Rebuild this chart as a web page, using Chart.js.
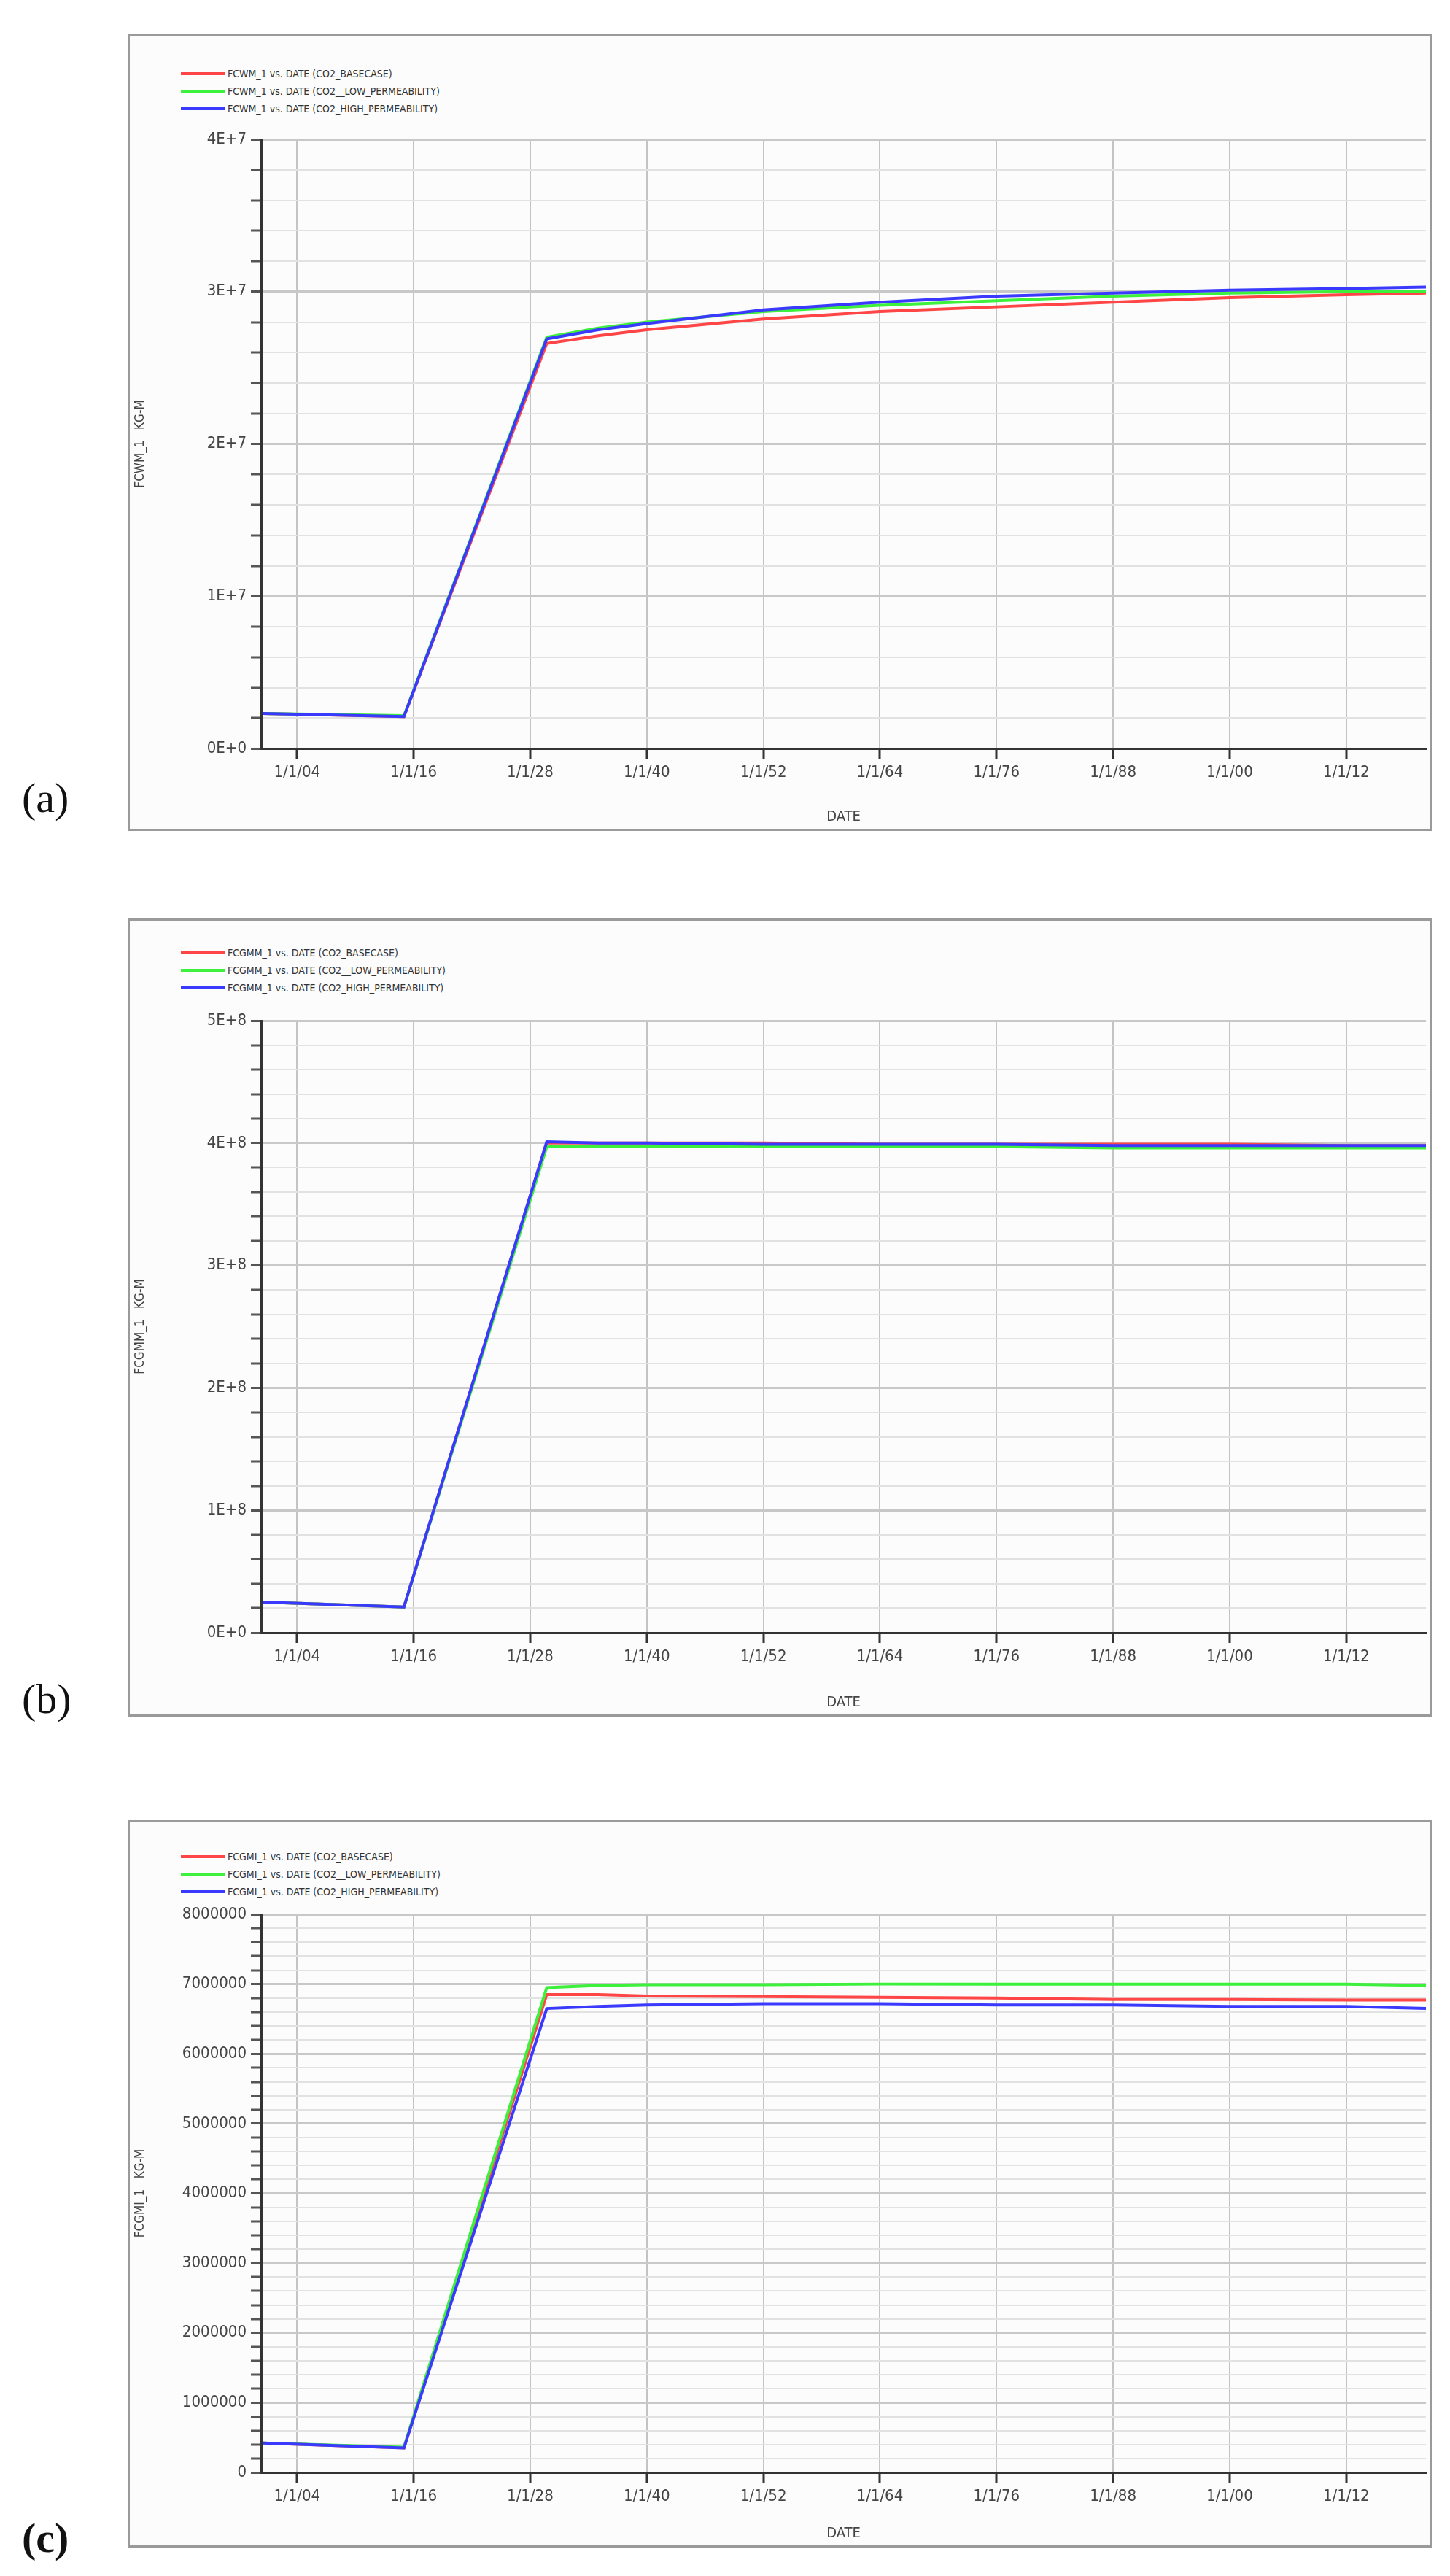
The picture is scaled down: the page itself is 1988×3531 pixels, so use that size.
<!DOCTYPE html>
<html><head><meta charset="utf-8">
<script src="https://cdn.jsdelivr.net/npm/chart.js@4/dist/chart.umd.min.js"></script>
<style>
body{margin:0;background:#fff;width:1988px;height:3531px;position:relative;font-family:"DejaVu Sans",sans-serif;overflow:hidden}
.panel{position:absolute;border:3px solid #9a9a9a;background:#fcfcfc;box-sizing:border-box}
.panel canvas{position:absolute;left:0;top:0}
.leg{position:absolute;left:70px;font-family:"DejaVu Sans Condensed","DejaVu Sans",sans-serif;font-size:14px;color:#333;line-height:1}
.leg div{height:24px;display:flex;align-items:center}
.leg span.l{display:inline-block;width:60px;height:4px;margin-right:4px}
.lab{position:absolute;left:30px;font-family:"Liberation Serif",serif;font-size:58px;color:#111}
</style></head><body>
<div class="lab" style="top:1060px">(a)</div>
<div class="lab" style="top:2295px">(b)</div>
<div class="lab" style="top:3445px;font-weight:bold">(c)</div>
<script>
const years = [1900.5, 1915, 1929.7, 1935, 1940, 1952, 1964, 1976, 1988, 2000, 2012, 2020.2];
const xTickYears = [1904, 1916, 1928, 1940, 1952, 1964, 1976, 1988, 2000, 2012];
const xTickLabels = ["1/1/04","1/1/16","1/1/28","1/1/40","1/1/52","1/1/64","1/1/76","1/1/88","1/1/00","1/1/12"];
const seriesNames = ["CO2_BASECASE","CO2__LOW_PERMEABILITY","CO2_HIGH_PERMEABILITY"];

const fcwmRed   = [2.3e6,2.1e6,2.66e7,2.71e7,2.75e7,2.82e7,2.87e7,2.90e7,2.93e7,2.96e7,2.98e7,2.99e7];
const fcwmGreen = [2.3e6,2.15e6,2.70e7,2.76e7,2.80e7,2.87e7,2.91e7,2.94e7,2.97e7,2.99e7,3.00e7,3.00e7];
const fcwmBlue  = [2.3e6,2.1e6,2.69e7,2.75e7,2.79e7,2.88e7,2.93e7,2.97e7,2.99e7,3.01e7,3.02e7,3.03e7];

const fcgmmRed   = [2.5e7,2.1e7,4.00e8,4.00e8,4.00e8,4.00e8,3.99e8,3.99e8,3.99e8,3.99e8,3.98e8,3.98e8];
const fcgmmGreen = [2.5e7,2.1e7,3.97e8,3.97e8,3.97e8,3.97e8,3.97e8,3.97e8,3.96e8,3.96e8,3.96e8,3.96e8];
const fcgmmBlue  = [2.5e7,2.1e7,4.01e8,4.00e8,4.00e8,3.99e8,3.99e8,3.99e8,3.98e8,3.98e8,3.98e8,3.98e8];

const fcgmiRed   = [4.2e5,3.5e5,6.85e6,6.85e6,6.83e6,6.82e6,6.81e6,6.80e6,6.78e6,6.78e6,6.77e6,6.77e6];
const fcgmiGreen = [4.2e5,3.6e5,6.95e6,6.98e6,6.99e6,6.99e6,7.00e6,7.00e6,7.00e6,7.00e6,7.00e6,6.98e6];
const fcgmiBlue  = [4.2e5,3.5e5,6.65e6,6.68e6,6.70e6,6.72e6,6.72e6,6.70e6,6.70e6,6.68e6,6.68e6,6.65e6];

const majorLabelsA = ["0E+0","1E+7","2E+7","3E+7","4E+7"];
const majorLabelsB = ["0E+0","1E+8","2E+8","3E+8","4E+8","5E+8"];
const majorLabelsC = ["0","1000000","2000000","3000000","4000000","5000000","6000000","7000000","8000000"];
const colors = ["#ff4545","#3cf03c","#3a3aff"];
const FONT = "DejaVu Sans Condensed";

function makePanel(p){
  const div=document.createElement('div');div.className='panel';
  Object.assign(div.style,{left:p.left+'px',top:p.top+'px',width:p.w+'px',height:p.h+'px'});
  document.body.appendChild(div);
  const leg=document.createElement('div');leg.className='leg';leg.style.top=p.legTop+'px';
  seriesNames.forEach((n,i)=>{const r=document.createElement('div');
    r.innerHTML='<span class="l" style="background:'+colors[i]+'"></span>'+p.var+' vs. DATE ('+n+')';leg.appendChild(r);});
  div.appendChild(leg);
  const c=document.createElement('canvas');c.width=p.w-6;c.height=p.h-6;div.appendChild(c);
  new Chart(c,{type:'line',
    data:{datasets:p.series.map((s,i)=>({label:seriesNames[i],order:3-i,data:years.map((y,j)=>({x:y,y:s[j]})),
      borderColor:colors[i],borderWidth:4,pointRadius:0,tension:0,fill:false}))},
    options:{responsive:false,animation:false,
      layout:{padding:{left:0,right:p.padR,top:p.padT,bottom:0}},
      plugins:{legend:{display:false},tooltip:{enabled:false}},
      scales:{
        x:{type:'linear',min:1900.3,max:2020.2,
          afterBuildTicks:ax=>{ax.ticks=xTickYears.map(v=>({value:v}));},
          afterFit:ax=>{ax.height=p.xH;},
          ticks:{autoSkip:false,maxRotation:0,padding:6,color:'#444',font:{size:22,family:FONT},
            callback:(v)=>xTickLabels[xTickYears.indexOf(v)]},
          grid:{color:'#c4c4c4',lineWidth:2,tickLength:14,tickColor:'#333',tickWidth:3},
          border:{color:'#333',width:3},
          title:{display:true,text:'DATE',color:'#444',font:{size:20,family:FONT},padding:{top:4}}},
        y:{min:0,max:p.max,
          afterBuildTicks:ax=>{const t=[];for(let i=0;i<=p.nMaj*5;i++)t.push({value:i*p.step/5});ax.ticks=t;},
          afterFit:ax=>{ax.width=p.yW;},
          ticks:{autoSkip:false,padding:6,color:'#444',font:{size:22,family:FONT},
            callback:(v,i)=> i%5===0 ? p.labels[i/5] : ''},
          grid:{color:ctx=>ctx.index%5===0?'#c8c8c8':'#e2e2e2',lineWidth:ctx=>ctx.index%5===0?3:2,
            tickLength:ctx=>ctx.index%5===0?28:14,tickColor:'#555',tickWidth:3},
          border:{color:'#333',width:3},
          title:{display:true,text:p.var+'   KG-M',color:'#444',font:{size:17,family:FONT},padding:{bottom:10}}}
      }}});
}
makePanel({left:175,top:46,w:1789,h:1093,legTop:40,var:'FCWM_1',series:[fcwmRed,fcwmGreen,fcwmBlue],
  max:4e7,step:1e7,nMaj:4,labels:majorLabelsA,padR:6,padT:142,xH:110,yW:180});
makePanel({left:175,top:1259,w:1789,h:1094,legTop:32,var:'FCGMM_1',series:[fcgmmRed,fcgmmGreen,fcgmmBlue],
  max:5e8,step:1e8,nMaj:5,labels:majorLabelsB,padR:6,padT:137,xH:112,yW:180});
makePanel({left:175,top:2495,w:1789,h:997,legTop:35,var:'FCGMI_1',series:[fcgmiRed,fcgmiGreen,fcgmiBlue],
  max:8e6,step:1e6,nMaj:8,labels:majorLabelsC,padR:6,padT:126,xH:100,yW:180});
</script></body></html>
